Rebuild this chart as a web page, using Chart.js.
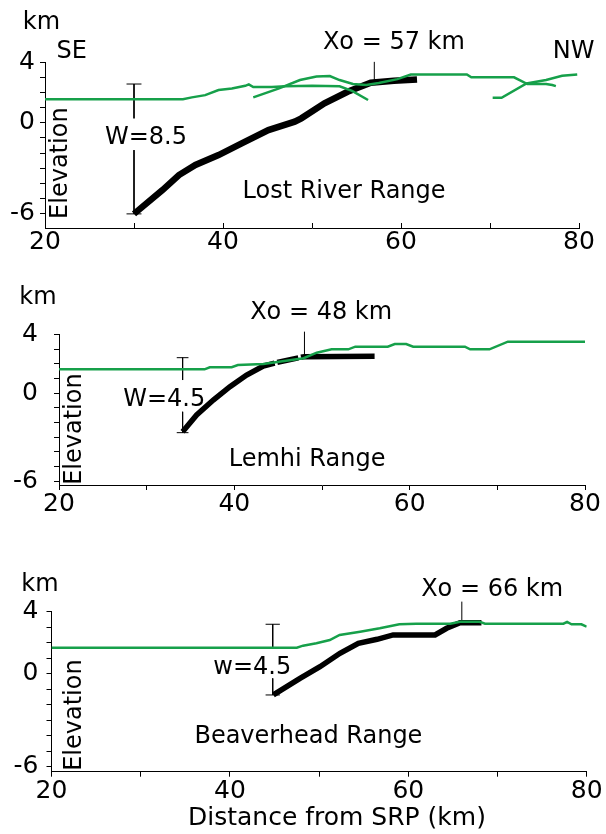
<!DOCTYPE html>
<html lang="en">
<head>
<meta charset="utf-8">
<title>Range front profiles</title>
<script src="https://cdn.jsdelivr.net/npm/chart.js"></script>
<style>
  html, body { margin: 0; padding: 0; background: #fff; }
  #wrap { position: relative; width: 606px; height: 834px; }
  canvas { position: absolute; left: 0; }
</style>
</head>
<body>
<div id="wrap">
  <canvas id="lostChart" width="606" height="262" style="top:0"></canvas>
  <canvas id="lemhiChart" width="606" height="254" style="top:262px"></canvas>
  <canvas id="beaverChart" width="606" height="318" style="top:516px"></canvas>
</div>
<script>
// ---- data (km) ----
const rangeNames = ['Lost River Range', 'Lemhi Range', 'Beaverhead Range']
const xoValues = [57, 48, 66]
const xoLabels = ['Xo = 57 km', 'Xo = 48 km', 'Xo = 66 km']
const xoTickBottom = [2.7, 2.48, 3.29]
const xoTickTop = [4.01, 4.18, 4.65]
const wLabels = ['W=8.5', 'W=4.5', 'w=4.5']
const wBarX = [30, 34.1, 44.8]
const wBarTop = [2.55, 2.41, 3.19]
const wGapTop = [0.29, 0.89, 1.65]
const wGapBottom = [-1.8, -1.27, -0.3]
const wBarBottom = [-6.0, -2.69, -1.37]

// Lost River Range
const lostX = [30, 33.2, 35.05, 36.9, 39.5, 42.1, 45.1, 48.06, 48.8, 51.4, 54.0, 56.6, 59.2, 61.8]
const lostY = [-6.0, -4.43, -3.44, -2.78, -2.13, -1.36, -0.48, 0.07, 0.29, 1.28, 2.04, 2.63, 2.76, 2.85]
const lostTopoAX = [20, 35.5, 36.5, 38, 39.5, 41, 42.5, 42.9, 43.4, 45.5, 47, 50, 53.1, 54.5, 56.3]
const lostTopoAY = [1.55, 1.55, 1.67, 1.82, 2.15, 2.26, 2.43, 2.53, 2.35, 2.35, 2.41, 2.43, 2.4, 2.1, 1.5]
const lostTopoBX = [43.4, 46.3, 48.65, 50.5, 52, 53.1, 54.6, 56.1, 57.5, 59.6, 61.1, 67.4, 67.9, 72.7, 74.2, 76.3, 77, 77.4]
const lostTopoBY = [1.67, 2.26, 2.81, 3.05, 3.07, 2.81, 2.55, 2.48, 2.62, 2.87, 3.18, 3.18, 2.99, 2.99, 2.55, 2.55, 2.48, 2.41]
const lostTopoCX = [70.3, 71.3, 74.1, 76.3, 78.1, 79.8]
const lostTopoCY = [1.64, 1.64, 2.59, 2.81, 3.09, 3.18]

// Lemhi Range (nulls are the small breaks in the thick line)
const lemhiX = [34.1, 35.7, 37.6, 39.5, 41.4, 43.3, 44.6, 44.75, 44.9, 47.3, 47.45, 47.6, 48, 56]
const lemhiY = [-2.63, -1.49, -0.47, 0.44, 1.23, 1.84, 2.04, null, 2.09, 2.4, null, 2.44, 2.48, 2.5]
const lemhiTopoX = [20, 36.6, 37.2, 39.7, 40.4, 43.3, 47.9, 49.4, 51.1, 53.0, 53.8, 57.5, 58.3, 59.6, 60.4, 66.3, 66.9, 69.1, 71.2, 80]
const lemhiTopoY = [1.62, 1.62, 1.76, 1.76, 1.91, 1.98, 2.37, 2.75, 2.98, 2.98, 3.16, 3.16, 3.34, 3.34, 3.16, 3.16, 2.98, 2.98, 3.5, 3.5]

// Beaverhead Range
const beaverX = [44.87, 47.86, 50.1, 52.34, 54.4, 56.5, 58.3, 63.0, 64.3, 65.8, 68.2]
const beaverY = [-1.37, -0.30, 0.45, 1.32, 1.96, 2.22, 2.5, 2.5, 2.93, 3.29, 3.29]
const beaverTopoX = [20, 47.5, 48.2, 49.7, 51.2, 52.3, 54.6, 56.8, 59.0, 60.9, 64.7, 65.8, 68.0, 68.6, 77.4, 77.8, 78.3, 79.4, 80]
const beaverTopoY = [1.68, 1.68, 1.81, 1.96, 2.17, 2.5, 2.71, 2.93, 3.19, 3.23, 3.23, 3.35, 3.35, 3.23, 3.23, 3.34, 3.19, 3.19, 3.03]

const FONT = '"DejaVu Sans", sans-serif'
const GREEN = '#16a04a'

function series(xs, ys) {
    return xs.map((x, i) => ({x: x, y: ys[i]}))
}

// draws the free text of a panel at data coordinates
const textPlugin = {
    id: 'panelText',
    afterDatasetsDraw(chart, args, opts) {
        const ctx = chart.ctx
        const sx = chart.scales.x, sy = chart.scales.y
        ctx.save()
        ctx.fillStyle = '#000'
        ctx.textAlign = 'center'
        ctx.textBaseline = 'middle'
        opts.items.forEach(it => {
            ctx.save()
            ctx.font = (it.size || 24) + 'px ' + FONT
            ctx.translate(sx.getPixelForValue(it.x), sy.getPixelForValue(it.y))
            if (it.rot) ctx.rotate(-Math.PI / 2)
            ctx.fillText(it.text, 0, 0)
            ctx.restore()
        })
        // inward x ticks (top panel only)
        if (opts.inTicks) {
            ctx.strokeStyle = '#000'
            ctx.lineWidth = 1
            sx.ticks.forEach(t => {
                const px = Math.round(sx.getPixelForValue(t.value)) + 0.5
                ctx.beginPath()
                ctx.moveTo(px, chart.chartArea.bottom)
                ctx.lineTo(px, chart.chartArea.bottom - 5)
                ctx.stroke()
            })
        }
        ctx.restore()
    }
}

function buildChart(id, i, lines, fault, faultWidth, box, items) {
    const datasets = []
    lines.forEach(l => datasets.push({data: l, borderColor: GREEN, borderWidth: 2.5}))
    datasets.push({data: fault, borderColor: '#000', borderWidth: faultWidth})
    const cap = box.cap
    datasets.push({
        data: [
            {x: wBarX[i], y: wBarTop[i]}, {x: wBarX[i], y: wGapTop[i]}, {x: wBarX[i], y: null},
            {x: wBarX[i], y: wGapBottom[i]}, {x: wBarX[i], y: wBarBottom[i]}, {x: wBarX[i], y: null},
            {x: wBarX[i] - cap, y: wBarTop[i]}, {x: wBarX[i] + cap, y: wBarTop[i]}, {x: wBarX[i], y: null},
            {x: wBarX[i] - cap, y: wBarBottom[i]}, {x: wBarX[i] + cap, y: wBarBottom[i]}
        ],
        borderColor: '#000', borderWidth: 1
    })
    datasets.push({
        data: [{x: xoValues[i], y: xoTickBottom[i]}, {x: xoValues[i], y: xoTickTop[i]}],
        borderColor: '#000', borderWidth: 1, clip: false
    })

    return new Chart(document.getElementById(id), {
        type: 'line',
        data: {datasets: datasets},
        options: {
            responsive: false,
            animation: false,
            events: [],
            spanGaps: false,
            layout: {padding: {left: 0, top: box.top, right: box.right, bottom: 0}},
            elements: {point: {radius: 0}, line: {tension: 0, fill: false, borderCapStyle: 'butt'}},
            plugins: {
                legend: {display: false},
                tooltip: {enabled: false},
                panelText: {items: items, inTicks: box.inTicks}
            },
            scales: {
                x: {
                    type: 'linear', min: 20, max: 80,
                    afterFit: s => { s.height = box.xHeight },
                    border: {color: '#000', width: 1},
                    grid: {drawOnChartArea: false, drawTicks: !box.inTicks, tickLength: 5, color: '#000'},
                    ticks: {
                        stepSize: 10, autoSkip: false, maxRotation: 0, padding: 2, color: '#000',
                        font: {family: FONT, size: 25, lineHeight: 1},
                        callback: v => v % 20 === 0 ? String(v) : ''
                    }
                },
                y: {
                    type: 'linear', min: box.yMin, max: 4,
                    afterFit: s => { s.width = box.left },
                    border: {color: '#000', width: 1},
                    grid: {drawOnChartArea: false, tickLength: 5, color: '#000'},
                    ticks: {
                        stepSize: 1, includeBounds: false, autoSkip: false, padding: box.yPad, color: '#000',
                        font: {family: FONT, size: 25, lineHeight: 1},
                        callback: v => (v === 4 || v === 0 || v === -6) ? String(v) : ''
                    }
                }
            }
        },
        plugins: [textPlugin]
    })
}

buildChart('lostChart', 0,
    [series(lostTopoAX, lostTopoAY), series(lostTopoBX, lostTopoBY), series(lostTopoCX, lostTopoCY)],
    series(lostX, lostY), 6.5,
    {top: 62, right: 27, left: 45, xHeight: 34, yPad: 5, yMin: -6.93, cap: 0.84, inTicks: true},
    [
        {text: 'km', x: 19.6, y: 6.6},
        {text: 'SE', x: 23.0, y: 4.65},
        {text: 'NW', x: 79.4, y: 4.65},
        {text: xoLabels[0], x: 59.2, y: 5.24},
        {text: wLabels[0], x: 31.35, y: -1.0},
        {text: rangeNames[0], x: 53.6, y: -4.54},
        {text: 'Elevation', x: 21.8, y: -2.66, rot: true}
    ])

buildChart('lemhiChart', 1,
    [series(lemhiTopoX, lemhiTopoY)],
    series(lemhiX, lemhiY), 5.5,
    {top: 72.3, right: 21, left: 59, xHeight: 31, yPad: 16, yMin: -6.25, cap: 0.67},
    [
        {text: 'km', x: 17.6, y: 6.47},
        {text: xoLabels[1], x: 49.9, y: 5.45},
        {text: wLabels[1], x: 32.0, y: -0.47},
        {text: rangeNames[1], x: 48.3, y: -4.55},
        {text: 'Elevation', x: 21.8, y: -2.45, rot: true}
    ])

buildChart('beaverChart', 2,
    [series(beaverTopoX, beaverTopoY)],
    series(beaverX, beaverY), 5.5,
    {top: 95.7, right: 19.3, left: 51.5, xHeight: 62.3, yPad: 8, yMin: -6.32, cap: 0.8},
    [
        {text: 'km', x: 18.7, y: 5.72},
        {text: xoLabels[2], x: 69.4, y: 5.4},
        {text: wLabels[2], x: 42.5, y: 0.37},
        {text: rangeNames[2], x: 48.8, y: -4.08},
        {text: 'Elevation', x: 22.6, y: -2.67, rot: true},
        {text: 'Distance from SRP (km)', x: 52.0, y: -9.35, size: 25}
    ])
</script>
</body>
</html>
